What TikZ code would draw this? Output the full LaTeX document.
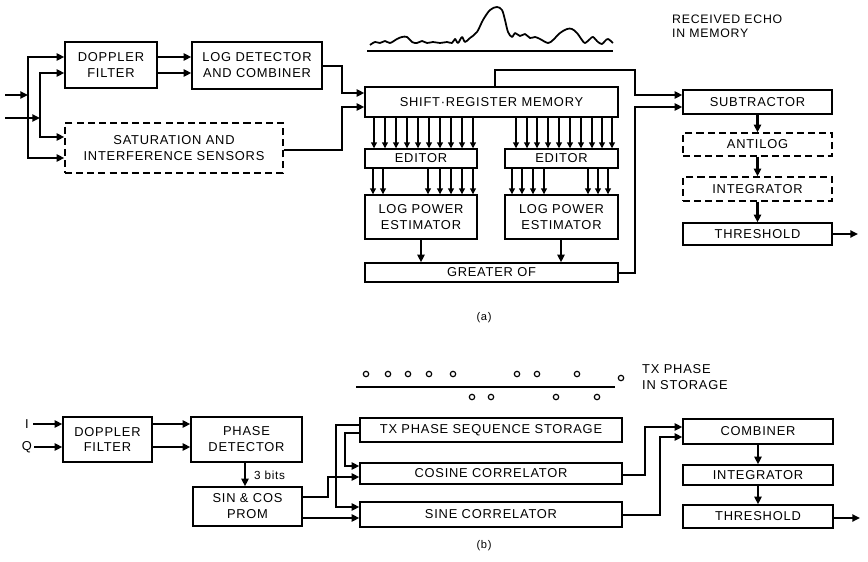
\documentclass[tikz,border=0pt]{standalone}
\usepackage{fontspec}
\setmainfont{Liberation Sans}[LetterSpace=6]
\usetikzlibrary{arrows.meta,calc}
\newcommand\bx[7][box]{\node[#1,minimum width={(#5-#3)*0.853582pt},minimum height={(#6-#4)*0.853582pt}] (#2) at ({(#3+#5)/2},{(#4+#6)/2}) {#7};}
\begin{document}
\begin{tikzpicture}[x=0.03cm,y=-0.03cm,
  box/.style={draw,line width=1.1pt,inner sep=0pt,align=center,font=\fontsize{11}{13.6}\selectfont},
  dbox/.style={box,dash pattern=on 6pt off 3.5pt},
  conn/.style={line width=2.4pt,-{Triangle[length=6.5pt,width=6pt]}},
  bus/.style={line width=1.6pt,-{Triangle[length=5pt,width=4.8pt]}},
  lbl/.style={font=\fontsize{11}{13.6}\selectfont,align=left,inner sep=0pt}]
\useasboundingbox (0,0) rectangle (868,562);

% ---------------- (a) ----------------
\bx{dopa}{65}{42}{157}{88}{DOPPLER\\FILTER}
\bx{logd}{192}{42}{322}{89}{LOG DETECTOR\\AND COMBINER}
\bx[dbox]{sat}{65}{123}{283}{173}{SATURATION AND\\INTERFERENCE SENSORS}
\bx{srm}{365}{87}{618}{117}{SHIFT·REGISTER MEMORY}
\bx{ed1}{365}{149}{477}{168}{EDITOR}
\bx{ed2}{505}{149}{618}{168}{EDITOR}
\bx{lp1}{365}{195}{477}{239}{LOG POWER\\ESTIMATOR}
\bx{lp2}{505}{195}{618}{239}{LOG POWER\\ESTIMATOR}
\bx{gof}{365}{263}{618}{282}{GREATER OF}
\bx{sub}{683}{90}{832}{114}{SUBTRACTOR}
\bx[dbox]{ant}{683}{133}{832}{156}{ANTILOG}
\bx[dbox]{inta}{683}{177}{832}{201}{INTEGRATOR}
\bx{thra}{683}{223}{832}{245}{THRESHOLD}

\coordinate (in1) at (5,95);
\coordinate (in2) at (5,118);
\coordinate (ba) at (28,95);
\coordinate (bb) at (40,118);
\draw[conn] (in1) -- (ba);
\draw[conn] (in2) -- (bb);
\draw[conn] (ba) |- (dopa.west |- 0,57);
\draw[conn] (ba) |- (sat.west |- 0,158);
\draw[conn] (bb) |- (dopa.west |- 0,73);
\draw[conn] (bb) |- (sat.west |- 0,137);
\draw[conn] (dopa.east |- 0,57) -- (logd.west |- 0,57);
\draw[conn] (dopa.east |- 0,73) -- (logd.west |- 0,73);
\draw[conn] (logd.east |- 0,66) -- (342,66) -- (342,93) -- (srm.west |- 0,93);
\draw[conn] (sat.east |- 0,150) -- (342,150) -- (342,107) -- (srm.west |- 0,107);
\draw[conn] (srm.north -| 495,0) -- (495,70) -- (635,70) -- (635,95) -- (sub.west |- 0,95);
\draw[conn] (gof.east |- 0,273) -- (635,273) -- (635,107) -- (sub.west |- 0,107);

\foreach \x in {374,385,396,407,418,429,440,451,462,473}
  \draw[bus] (srm.south -| \x,0) -- (ed1.north -| \x,0);
\foreach \x in {516,527,537,548,559,570,581,592,602,612}
  \draw[bus] (srm.south -| \x,0) -- (ed2.north -| \x,0);
\foreach \x in {373,383,428,440,451,462,473}
  \draw[bus] (ed1.south -| \x,0) -- (lp1.north -| \x,0);
\foreach \x in {512,522,533,544,588,598,608}
  \draw[bus] (ed2.south -| \x,0) -- (lp2.north -| \x,0);
\draw[conn] (lp1.south -| 421,0) -- (gof.north -| 421,0);
\draw[conn] (lp2.south -| 561,0) -- (gof.north -| 561,0);

\draw[conn] (sub) -- (ant);
\draw[conn] (ant) -- (inta);
\draw[conn] (inta) -- (thra);
\coordinate (outa) at (858,234);
\draw[conn] (thra.east |- outa) -- (outa);

% echo waveform
\draw[line width=1.5pt,line join=round] plot[smooth,tension=0.55] coordinates {
 (370,45) (375,42) (380,43) (385,41) (390,43) (397,39) (402,37) (407,37) (412,42)
 (417,43) (422,41) (427,43) (433,42) (440,43) (447,42) (452,43) (455,39) (458,43)
 (462,37) (465,42) (470,38) (477,32) (483,20) (490,10) (497,7) (502,10) (505,20)
 (508,32) (512,37) (515,33) (520,36) (525,34) (530,38) (535,37) (540,39) (548,43)
 (553,40) (560,33) (567,29) (572,29) (577,33) (582,40) (585,43) (590,39) (593,37)
 (598,42) (602,44) (605,41) (608,39) (613,43)};
\draw[line width=1.2pt] (367,51) -- (613,51);
\node[lbl,anchor=west,font=\fontsize{10.5}{12}\selectfont] (echo) at (672,26) {RECEIVED ECHO\\IN MEMORY};
\node[font=\fontsize{9.5}{10}\selectfont] (capa) at (484,318) {(a)};

% ---------------- (b) ----------------
\bx{dopb}{63}{417}{152}{462}{DOPPLER\\FILTER}
\bx{phd}{191}{417}{302}{462}{PHASE\\DETECTOR}
\bx{prom}{193}{487}{302}{526}{SIN \& COS\\PROM}
\bx{txs}{360}{418}{622}{442}{TX PHASE SEQUENCE STORAGE}
\bx{cos}{360}{463}{622}{484}{COSINE CORRELATOR}
\bx{sin}{360}{502}{622}{527}{SINE CORRELATOR}
\bx{comb}{683}{419}{833}{444}{COMBINER}
\bx{intb}{683}{465}{833}{485}{INTEGRATOR}
\bx{thrb}{683}{505}{833}{528}{THRESHOLD}

\node[lbl] (lI) at (27,424) {I};
\node[lbl] (lQ) at (27,447) {Q};
\draw[conn] (lI.east) ++(4,0) -- (dopb.west |- 0,424);
\draw[conn] (lQ.east) ++(2,0) -- (dopb.west |- 0,447);
\draw[conn] (dopb.east |- 0,424) -- (phd.west |- 0,424);
\draw[conn] (dopb.east |- 0,447) -- (phd.west |- 0,447);
\draw[conn] (phd.south -| 245,0) -- (prom.north -| 245,0);
\node[lbl,anchor=west,font=\fontsize{10}{12}\selectfont] (bits) at (254,475) {3 bits};
\draw[conn] (prom.east |- 0,497) -- (328,497) -- (328,477) -- (cos.west |- 0,477);
\draw[conn] (prom.east |- 0,518) -- (sin.west |- 0,518);
\draw[conn] (txs.west |- 0,425) -- (336,425) -- (336,507) -- (sin.west |- 0,507);
\draw[conn] (txs.west |- 0,433) -- (345,433) -- (345,466) -- (cos.west |- 0,466);
\draw[conn] (cos.east |- 0,475) -- (645,475) -- (645,427) -- (comb.west |- 0,427);
\draw[conn] (sin.east |- 0,515) -- (660,515) -- (660,437) -- (comb.west |- 0,437);
\draw[conn] (comb) -- (intb);
\draw[conn] (intb) -- (thrb);
\coordinate (outb) at (860,518);
\draw[conn] (thrb.east |- outb) -- (outb);

% phase dots
\draw[line width=1.2pt] (356,387) -- (615,387);
\foreach \x in {366,388,408,429,453,517,537,577}
  \draw[line width=1pt] (\x,374) circle[radius=2.3pt];
\draw[line width=1pt] (621,378) circle[radius=2.3pt];
\foreach \x in {472,491,556,597}
  \draw[line width=1pt] (\x,397) circle[radius=2.3pt];
\node[lbl,anchor=west] (txl) at (642,377) {TX PHASE\\IN STORAGE};
\node[font=\fontsize{9.5}{10}\selectfont] (capb) at (484,546) {(b)};
\end{tikzpicture}
\end{document}
